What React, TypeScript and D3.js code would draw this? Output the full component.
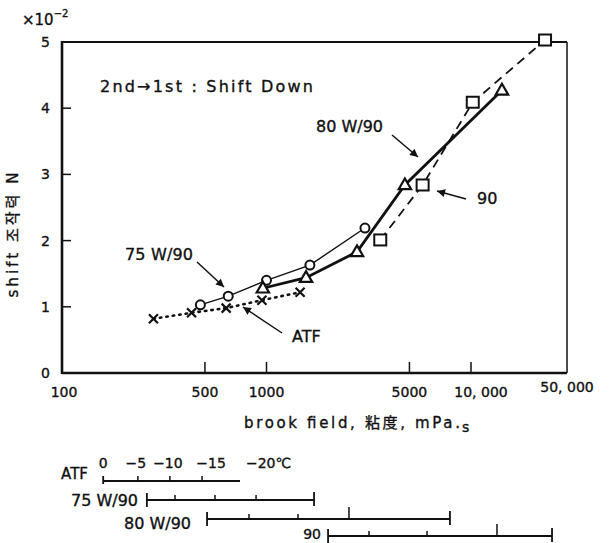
import React from 'react';
import * as d3 from 'd3';

const W = 609;
const H = 543;
const FONT = '"DejaVu Sans", "Noto Sans CJK KR", sans-serif';

// brookfield viscosity axis (log)
const xTickValues = [100, 500, 1000, 5000, 10000, 50000];
const xTickLabels = ['100', '500', '1000', '5000', '10, 000', '50, 000'];
// shift force, x10^-2 N
const yTickValues = [0, 1, 2, 3, 4, 5];

// [viscosity mPa.s, shift force x10^-2 N]
const atfData: [number, number][] = [[280, 0.82], [430, 0.91], [635, 0.98], [950, 1.1], [1460, 1.22]];
const w75Data: [number, number][] = [[475, 1.03], [650, 1.16], [1000, 1.4], [1630, 1.63], [3030, 2.19]];
const w80Data: [number, number][] = [[960, 1.28], [1560, 1.44], [2770, 1.83], [4750, 2.84], [16800, 4.27]];
const g90Data: [number, number][] = [[3600, 2.01], [5800, 2.84], [10300, 4.09], [34600, 5.03]];

// temperature scales below the chart: viscosity of each oil at 0, -5, -10, -15, -20 C
const tempTicks = ['0', '\u22125', '\u221210', '\u221215', '\u221220\u2103'];
const atfVisc = [159, 235, 337, 484, 742];
const w75Visc = [260, 357, 560, 889, 1708];
const w80Visc = [512, 821, 1426, 2531, 7890];
const g90Visc = [2000, 3172, 6095, 15460, 38900];

const crossPath = (s: number) => `M${-s},${-s}L${s},${s}M${-s},${s}L${s},${-s}`;
const triPath = (s: number) => `M0,${-s}L${s * 0.95},${s * 0.65}L${-s * 0.95},${s * 0.65}Z`;

// scanned print looks a little heavier than plain text
const ink = { fill: '#111', stroke: '#111', strokeWidth: 0.35 };

export default function App() {
  const x = d3.scaleLog().domain([100, 10000, 50000]).range([62, 471, 567]);
  const y = d3.scaleLinear().domain([0, 5]).range([373, 42]);
  const line = d3.line<[number, number]>().x(d => x(d[0])).y(d => y(d[1]));

  const bars = [
    { name: 'ATF', visc: atfVisc, by: 481, lx: 88, ly: 479, fs: 15, ends: false, tall: -1 },
    { name: '75 W/90', visc: w75Visc, by: 500, lx: 138, ly: 506, fs: 16, ends: true, tall: -1 },
    { name: '80 W/90', visc: w80Visc, by: 519, lx: 191, ly: 529, fs: 16, ends: true, tall: 3 },
    { name: '90', visc: g90Visc, by: 536, lx: 321, ly: 539, fs: 14, ends: true, tall: 3 },
  ];

  return (
    <svg width={W} height={H} style={{ position: 'absolute', left: 0, top: 0, background: '#fff' }}
      fontFamily={FONT}>
      <defs>
        <marker id="ah" viewBox="0 0 10 10" refX="10" refY="5" markerWidth="11" markerHeight="8"
          markerUnits="userSpaceOnUse" orient="auto">
          <path d="M0,0L10,5L0,10Z" fill="#111" />
        </marker>
      </defs>
      <rect width={W} height={H} fill="#fff" />

      {/* multiplier */}
      <text x={22} y={25} fontSize={15} {...ink}>
        ×10<tspan fontSize={10} dy={-8}>−2</tspan>
      </text>

      {/* frame */}
      <line x1={x(100)} x2={x(100)} y1={y(5) - 1} y2={y(0) + 1} stroke="#111" strokeWidth={2.6} />
      <line x1={x(100)} x2={x(50000)} y1={y(5)} y2={y(5)} stroke="#111" strokeWidth={2} />
      <line x1={x(50000)} x2={x(50000)} y1={y(5)} y2={y(0)} stroke="#111" strokeWidth={1.5} />
      <line x1={x(100)} x2={x(50000)} y1={y(0)} y2={y(0)} stroke="#111" strokeWidth={2.4} />

      {/* y axis */}
      {yTickValues.map(v => (
        <g key={v}>
          {v > 0 && v < 5 && <line x1={x(100)} x2={x(100) + 9} y1={y(v)} y2={y(v)} stroke="#111" strokeWidth={1.5} />}
          <text x={50} y={y(v)} dy="0.36em" textAnchor="end" fontSize={14} {...ink}>{v}</text>
        </g>
      ))}
      <text transform={`translate(18,${235}) rotate(-90)`} textAnchor="middle" fontSize={15} {...ink}
        textLength={125} lengthAdjust="spacing">shift 조작력 N</text>

      {/* x axis */}
      {xTickValues.map((v, i) => (
        <g key={v}>
          {i > 0 && i < xTickValues.length - 1 && (
            <line x1={x(v)} x2={x(v)} y1={y(0)} y2={y(0) - 11} stroke="#111" strokeWidth={1.5} />
          )}
          <text x={x(v) + (v === 10000 ? 10 : v === 100 ? 2 : 0)} y={v === 50000 ? 392 : 397}
            textAnchor="middle" fontSize={14} {...ink}>{xTickLabels[i]}</text>
        </g>
      ))}
      <text x={244} y={428} fontSize={15} {...ink} textLength={216} lengthAdjust="spacing">
        brook field,  粘度, mPa.</text>
      <text x={462} y={432} fontSize={14} {...ink}>s</text>

      {/* title annotation */}
      <text x={100} y={92} fontSize={16} {...ink} textLength={213} lengthAdjust="spacing">
        2nd→1st : Shift Down</text>

      {/* series lines */}
      <path d={line(atfData) || ''} fill="none" stroke="#111" strokeWidth={2.6}
        strokeDasharray="1.5 5" strokeLinecap="round" />
      <path d={line(w75Data) || ''} fill="none" stroke="#111" strokeWidth={1.4} />
      <path d={line(w80Data) || ''} fill="none" stroke="#111" strokeWidth={2.8} />
      <path d={line(g90Data) || ''} fill="none" stroke="#111" strokeWidth={1.8} strokeDasharray="9 6" />

      {/* markers */}
      {atfData.map((d, i) => (
        <path key={'a' + i} transform={`translate(${x(d[0])},${y(d[1])})`} d={crossPath(4.5)}
          stroke="#111" strokeWidth={2.2} fill="none" />
      ))}
      {w75Data.map((d, i) => (
        <circle key={'c' + i} cx={x(d[0])} cy={y(d[1])} r={4.5} fill="#fff" stroke="#111" strokeWidth={2} />
      ))}
      {w80Data.map((d, i) => (
        <path key={'t' + i} transform={`translate(${x(d[0])},${y(d[1])})`} d={triPath(6.5)}
          fill="#fff" stroke="#111" strokeWidth={2.2} />
      ))}
      {g90Data.map((d, i) => (
        <rect key={'s' + i} x={x(d[0]) - 6} y={y(d[1]) - 5.5} width={12} height={11}
          fill="#fff" stroke="#111" strokeWidth={2} />
      ))}

      {/* series labels with arrows */}
      <text x={316} y={132} fontSize={16} {...ink} textLength={67} lengthAdjust="spacing">80 W/90</text>
      <line x1={392} y1={135} x2={418} y2={157} stroke="#111" strokeWidth={1.5} markerEnd="url(#ah)" />
      <text x={477} y={204} fontSize={16} {...ink}>90</text>
      <line x1={466} y1={199} x2={437} y2={191} stroke="#111" strokeWidth={1.5} markerEnd="url(#ah)" />
      <text x={125} y={260} fontSize={16} {...ink} textLength={68} lengthAdjust="spacing">75 W/90</text>
      <line x1={197} y1={262} x2={224} y2={287} stroke="#111" strokeWidth={1.5} markerEnd="url(#ah)" />
      <text x={292} y={342} fontSize={16} {...ink}>ATF</text>
      <line x1={282} y1={333} x2={243} y2={307} stroke="#111" strokeWidth={1.5} markerEnd="url(#ah)" />

      {/* temperature scales */}
      {bars.map(b => {
        const x0 = x(b.visc[0]);
        const x1 = x(b.visc[b.visc.length - 1]);
        return (
          <g key={b.name}>
            <text x={b.lx} y={b.ly} textAnchor="end" fontSize={b.fs} {...ink}>{b.name}</text>
            <line x1={x0} x2={x1} y1={b.by} y2={b.by} stroke="#111" strokeWidth={2} />
            {b.ends ? (
              <>
                <line x1={x0} x2={x0} y1={b.by - 7} y2={b.by + 7} stroke="#111" strokeWidth={1.8} />
                <line x1={x1} x2={x1} y1={b.by - 8} y2={b.by + 6} stroke="#111" strokeWidth={1.8} />
              </>
            ) : (
              <line x1={x0} x2={x0} y1={b.by - 5} y2={b.by + 3} stroke="#111" strokeWidth={1.8} />
            )}
            {b.visc.slice(1, -1).map((v, i) => (
              <line key={i} x1={x(v)} x2={x(v)} y1={b.by} y2={b.by - (i + 1 === b.tall ? 12 : 5)}
                stroke="#111" strokeWidth={1.5} />
            ))}
          </g>
        );
      })}
      {atfVisc.map((v, i) => (
        <text key={'tl' + i} x={x(v) + (i === 4 ? 6 : i === 3 ? 9 : i === 0 ? 0 : -2)} y={468}
          textAnchor={i === 4 ? 'start' : 'middle'} fontSize={14} {...ink}>{tempTicks[i]}</text>
      ))}
    </svg>
  );
}
